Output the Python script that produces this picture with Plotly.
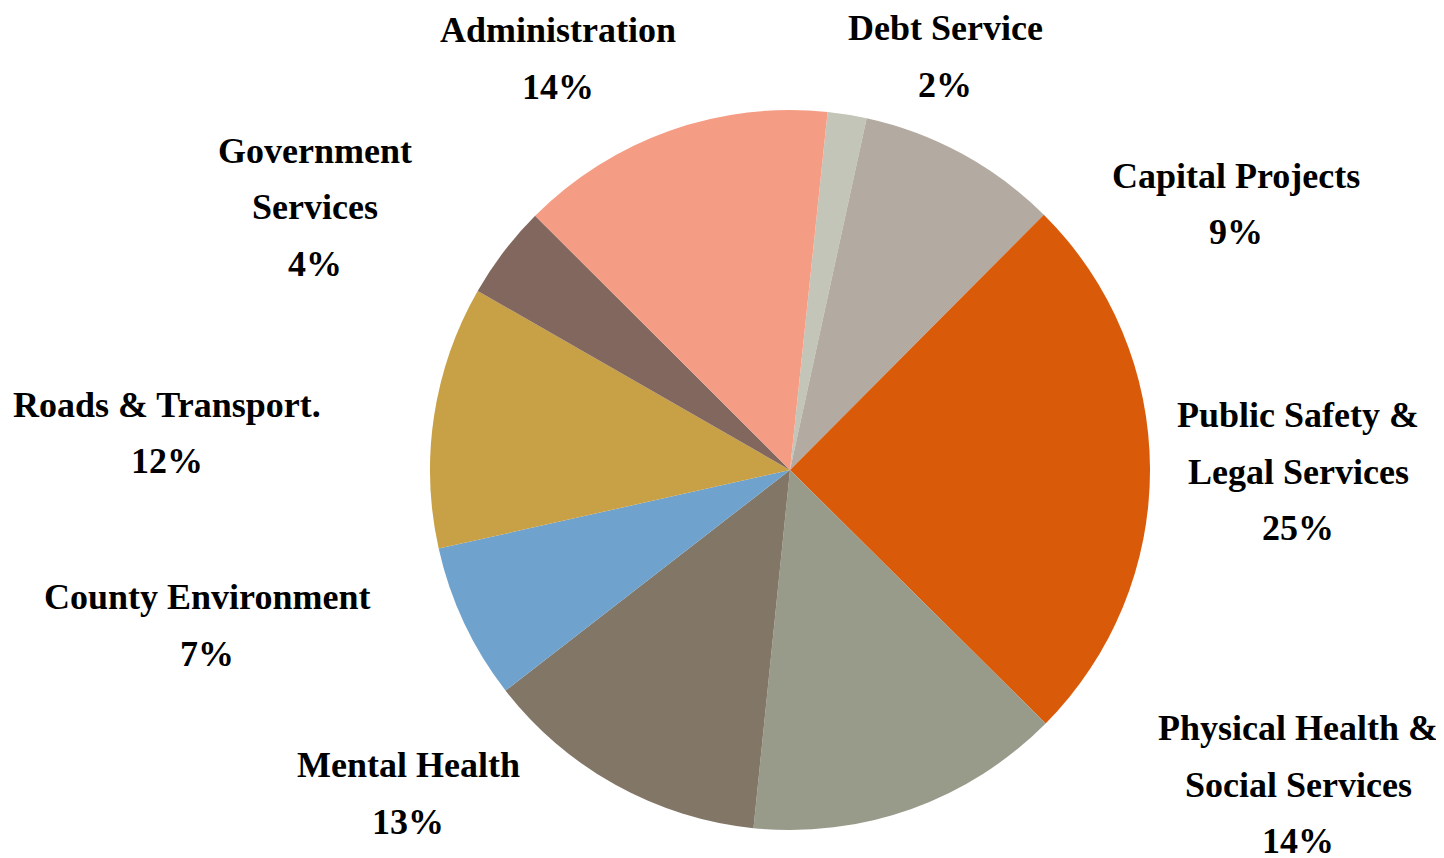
import plotly.graph_objects as go

# Data
categories = ["Debt Service", "Capital Projects", "Public Safety & Legal Services",
              "Physical Health & Social Services", "Mental Health", "County Environment",
              "Roads & Transport.", "Government Services", "Administration"]
values = [1.75, 9.05, 25.0, 14.2, 12.9, 7.0, 11.8, 4.2, 14.2]

# Style
colors = ["#C2C5B8", "#B3ABA1", "#D95B0A", "#989A8A", "#827666", "#6FA2CD",
          "#C8A046", "#82675E", "#F59D84"]
label_lines = [["Debt Service"], ["Capital Projects"], ["Public Safety &", "Legal Services"],
               ["Physical Health &", "Social Services"], ["Mental Health"], ["County Environment"],
               ["Roads & Transport."], ["Government", "Services"], ["Administration"]]
# label anchor (center x px, first line center y px) in window pixels
label_pos = [(945, 28), (1236, 176), (1298, 415), (1298, 728), (408, 765), (207, 597),
             (167, 405), (315, 151), (558, 30)]
LINE_GAP = 56.5
W, H = 1444, 858
OFF = 8  # page body margin
FONT = "Liberation Serif"

CX, CY, R = 790 - OFF, 470 - OFF, 360

fig = go.Figure(go.Pie(
    labels=categories, values=values, sort=False, direction="clockwise", rotation=6,
    marker=dict(colors=colors, line=dict(width=0)),
    textinfo="none", hoverinfo="label+percent", showlegend=False,
    domain=dict(x=[(CX - R) / W, (CX + R) / W],
                y=[(H - CY - R) / H, (H - CY + R) / H]),
))

total = sum(values)
annotations = []
for lines, (cx, cy), v in zip(label_lines, label_pos, values):
    pct = f"{round(v / total * 100)}%"
    for i, t in enumerate(lines + [pct]):
        y = cy + i * LINE_GAP - OFF
        annotations.append(dict(
            text=f"<b>{t}</b>", x=(cx - OFF) / W, y=1 - y / H, xref="paper", yref="paper",
            showarrow=False, xanchor="center", yanchor="middle",
            font=dict(family=FONT, size=36, color="black")))

fig.update_layout(
    width=W, height=H, margin=dict(l=0, r=0, t=0, b=0),
    paper_bgcolor="white", plot_bgcolor="white",
    annotations=annotations,
)
fig.write_html("out.html")
